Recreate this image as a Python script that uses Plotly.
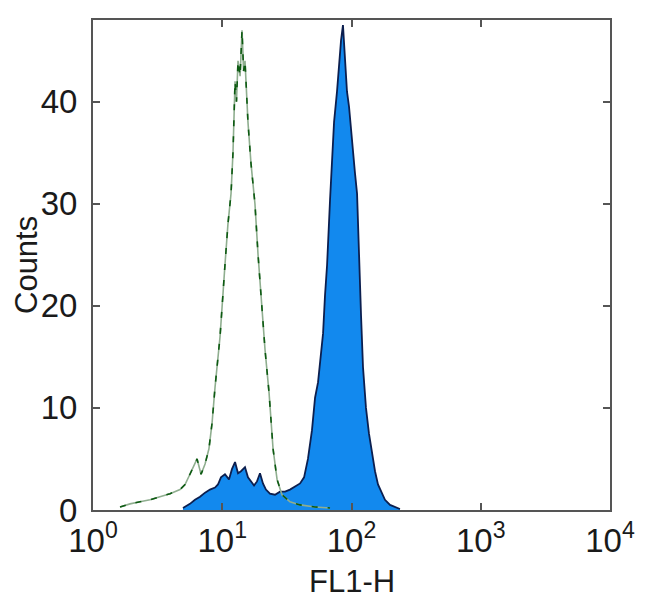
import plotly.graph_objects as go

# Isotype control (green outline): log10(FL1-H) positions and counts
iso_log = [0.209, 0.286, 0.364, 0.441, 0.518, 0.596, 0.673, 0.712, 0.750, 0.805,
           0.836, 0.867, 0.897, 0.921, 0.944, 0.983, 1.021, 1.044, 1.068, 1.083,
           1.099, 1.110, 1.122, 1.138, 1.153, 1.165, 1.176, 1.199, 1.222, 1.253,
           1.277, 1.300, 1.331, 1.362, 1.393, 1.424, 1.462, 1.524, 1.602, 1.718, 1.834]
iso_counts = [0.3, 0.6, 0.8, 1.0, 1.3, 1.6, 2.0, 2.5, 3.5, 5.0,
              3.5, 4.5, 6.0, 8.5, 12.0, 17.0, 24.0, 28.0, 31.0, 35.0,
              42.0, 40.0, 44.0, 42.5, 47.0, 43.0, 44.0, 38.0, 34.0, 30.0,
              25.0, 21.0, 15.7, 11.5, 6.0, 3.0, 1.5, 0.8, 0.5, 0.3, 0.2]

# Stained sample (blue filled)
stain_log = [0.696, 0.750, 0.789, 0.828, 0.867, 0.905, 0.944, 0.967, 0.990, 1.021,
             1.052, 1.075, 1.099, 1.122, 1.145, 1.176, 1.199, 1.222, 1.246, 1.269,
             1.292, 1.315, 1.338, 1.369, 1.408, 1.447, 1.486, 1.524, 1.563, 1.602,
             1.633, 1.663, 1.694, 1.718, 1.741, 1.764, 1.780, 1.795, 1.811, 1.834,
             1.849, 1.865, 1.888, 1.903, 1.919, 1.934, 1.950, 1.965, 1.981, 2.004,
             2.027, 2.043, 2.058, 2.074, 2.089, 2.112, 2.135, 2.159, 2.182, 2.205,
             2.228, 2.259, 2.298, 2.337, 2.375]
stain_counts = [0.2, 0.6, 1.0, 1.3, 1.7, 2.0, 2.2, 2.5, 3.2, 3.5,
                3.0, 4.0, 4.7, 3.6, 3.8, 4.2, 3.2, 2.8, 2.4, 2.8,
                3.6, 2.6, 2.0, 1.6, 1.5, 1.8, 1.8, 2.0, 2.3, 2.6,
                3.2, 5.0, 7.8, 11.0, 12.5, 15.0, 17.3, 21.0, 24.0, 30.4,
                34.0, 38.0, 41.0, 43.5, 46.0, 47.5, 44.0, 41.0, 39.5, 36.0,
                33.0, 31.0, 24.0, 19.0, 14.0, 10.0, 7.5, 5.5, 3.8, 2.5,
                1.8, 1.0, 0.5, 0.3, 0.1]

x_tickvals = [1, 10, 100, 1000, 10000]
x_ticktext = ["10<sup>0</sup>", "10<sup>1</sup>", "10<sup>2</sup>", "10<sup>3</sup>", "10<sup>4</sup>"]
y_tickvals = [0, 10, 20, 30, 40]

iso_x = [10 ** v for v in iso_log]
stain_x = [10 ** v for v in stain_log]

FONT = "Liberation Sans, Arial, sans-serif"

fig = go.Figure()
fig.add_trace(go.Scatter(
    x=stain_x, y=stain_counts, mode="lines", fill="tozeroy",
    fillcolor="#1289ee", line=dict(color="#0c1f4f", width=1.8),
    hoverinfo="x+y", showlegend=False))
fig.add_trace(go.Scatter(
    x=iso_x, y=iso_counts, mode="lines",
    line=dict(color="#8fae8f", width=1.6), showlegend=False))
fig.add_trace(go.Scatter(
    x=iso_x, y=iso_counts, mode="lines",
    line=dict(color="#0d5a12", width=1.6, dash="6px,10px"), showlegend=False))

axis_common = dict(
    showline=True, linecolor="#555555", linewidth=2, mirror="ticks",
    ticks="inside", ticklen=7, tickwidth=1.5, tickcolor="#555555",
    showgrid=False, zeroline=False, automargin=False,
    tickfont=dict(family=FONT, size=33, color="#1a1a1a"),
)

# page body has an 8px default margin, so the figure is sized to fit the window
fig.update_layout(
    width=642, height=607,
    margin=dict(l=85, r=40, t=12, b=105),
    paper_bgcolor="white", plot_bgcolor="white",
    xaxis=dict(type="log", range=[0, 4], tickvals=x_tickvals, ticktext=x_ticktext,
               **axis_common),
    yaxis=dict(range=[0, 48], tickvals=y_tickvals, ticklabelstandoff=7,
               **axis_common),
    annotations=[
        dict(text="FL1-H", xref="paper", yref="paper", x=0.5, y=0,
             yshift=-71, xanchor="center", yanchor="middle", showarrow=False,
             font=dict(family=FONT, size=31, color="#1a1a1a")),
        dict(text="Counts", xref="paper", yref="paper", x=0, y=0.5,
             xshift=-67, xanchor="center", yanchor="middle", showarrow=False,
             textangle=-90, font=dict(family=FONT, size=31, color="#1a1a1a")),
    ],
)

fig.write_html("out.html")
